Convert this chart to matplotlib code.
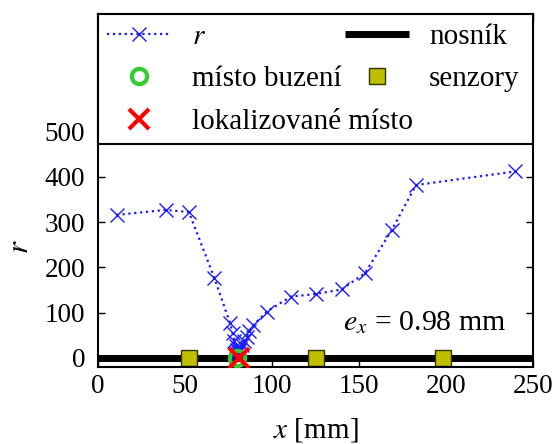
import matplotlib
matplotlib.use("Agg")
import matplotlib.pyplot as plt

plt.rcParams['font.family'] = ['Liberation Serif', 'DejaVu Serif']
plt.rcParams['mathtext.fontset'] = 'stix'

# residual r along the beam for candidate positions
x_pos = [10.9, 39.2, 52.4, 67.0, 76.0, 77.5, 78.5, 79.3, 80.0, 80.6, 81.3, 82.0,
         83.0, 84.2, 85.6, 87.2, 89.4, 97.1, 110.9, 125.4, 140.1, 153.5, 168.9,
         182.8, 239.7]
r_val = [316, 327, 322, 177, 77, 55, 38, 26, 16, 10, 14, 20, 28, 36, 46, 58, 72,
         102, 135, 141, 151, 187, 282, 382, 412]

beam_x = [0, 250]
beam_y = [0, 0]
sensor_x = [52.5, 125.3, 198.5]
sensor_y = [0, 0, 0]
excitation_x = [80.0]
located_x = [80.98]
error_text = r"$e_x$ = 0.98 mm"

FS = 20

fig = plt.figure(figsize=(5.58, 4.44), dpi=100)
ax = fig.add_axes([0.175, 0.173, 0.78, 0.795])

h_beam, = ax.plot(beam_x, beam_y, color='black', lw=5, solid_capstyle='butt', zorder=1)
h_r, = ax.plot(x_pos, r_val, linestyle=':', color='#1a1aff', lw=1.6, marker='x', ms=10.5,
               mew=1.0, zorder=2)
h_sens, = ax.plot(sensor_x, sensor_y, linestyle='none', marker='s', ms=11, mfc='#bfbf00',
                  mec='#333300', mew=1.0, zorder=2)
h_exc, = ax.plot(excitation_x, [0], linestyle='none', marker='o', ms=11, mfc='none',
                 mec='#33cc33', mew=3, zorder=3)
h_loc, = ax.plot(located_x, [0], linestyle='none', marker='x', ms=14, mec='#ff0000',
                 mew=3, zorder=4)

ax.set_xlim(0, 250)
ax.set_ylim(-21, 760)
ax.set_xticks([0, 50, 100, 150, 200, 250])
ax.set_yticks([0, 100, 200, 300, 400, 500])
ax.tick_params(direction='in', top=True, right=True, length=5, width=1,
               labelsize=19.5)
ax.tick_params(axis='x', pad=5)
ax.tick_params(axis='y', pad=9)
for s in ax.spines.values():
    s.set_linewidth(1.5)

ax.set_xlabel('$x$ [mm]', fontsize=FS + 1, labelpad=12)
ax.set_ylabel('$r$', fontsize=FS + 2)
ax.yaxis.set_label_coords(-0.143, 0.34)

ax.text(235, 78, error_text, ha='right', va='center', fontsize=FS + 1.5)

common = dict(loc='upper left', borderaxespad=0, fontsize=FS + 1,
              handlelength=2.2, handletextpad=0.7, labelspacing=0.55,
              borderpad=0.32)

# first column with the full-width frame
leg1 = ax.legend([h_r, h_exc, h_loc], ['$r$', 'místo buzení', 'lokalizované místo'],
                 bbox_to_anchor=(0, 0, 1, 1), mode='expand', ncol=1,
                 fancybox=False, framealpha=1, edgecolor='black', **common)
leg1.get_frame().set_linewidth(1.5)
leg1.set_zorder(10)
ax.add_artist(leg1)

# second column, frameless, placed over the first one
leg2 = ax.legend([h_beam, h_sens], ['nosník', 'senzory'],
                 bbox_to_anchor=(0.546, 0, 0.454, 1), frameon=False, **common)
leg2.set_zorder(11)

fig.savefig('out.png', dpi=100)
